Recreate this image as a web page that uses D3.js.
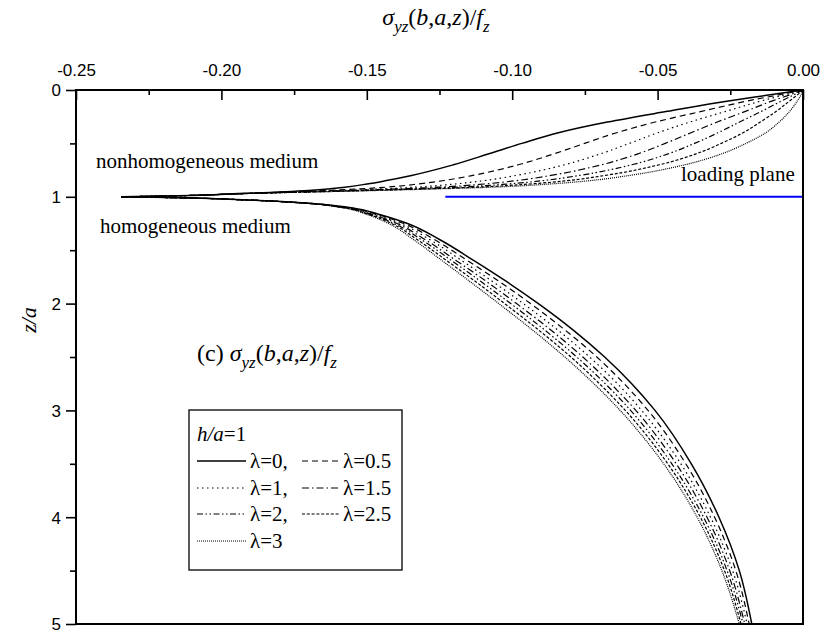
<!DOCTYPE html>
<html><head><meta charset="utf-8">
<script src="https://cdn.jsdelivr.net/npm/d3@7"></script>
<style>body{margin:0;background:#fff}svg{display:block}</style>
</head><body>
<svg id="c" width="831" height="637"></svg>
<script>
// ---------- data ----------
const xTicks = [-0.25, -0.20, -0.15, -0.10, -0.05, 0.00];
const xMinor = [-0.225, -0.175, -0.125, -0.075, -0.025];
const yTicks = [0, 1, 2, 3, 4, 5];
const yMinor = [0.5, 1.5, 2.5, 3.5, 4.5];
const lambdas = ["0", "0.5", "1", "1.5", "2", "2.5", "3"];

const zUpper = [0, 0.05, 0.1, 0.2, 0.3, 0.4, 0.5, 0.6, 0.7, 0.8, 0.85, 0.88, 0.91, 0.94, 0.97, 0.99, 1.0];
const upperL0  = [0, -0.0125, -0.0251, -0.0467, -0.0673, -0.0841, -0.0967, -0.1083, -0.1202, -0.1346, -0.1437, -0.1499, -0.1575, -0.1700, -0.1940, -0.2150, -0.2345];
const upperL05 = [0, -0.0092, -0.0186, -0.0349, -0.0508, -0.0641, -0.0751, -0.0859, -0.0979, -0.1136, -0.1241, -0.1323, -0.1434, -0.1630, -0.1934, -0.2150, -0.2345];
const upperL1  = [0, -0.0069, -0.0140, -0.0265, -0.0389, -0.0499, -0.0597, -0.0699, -0.0820, -0.0986, -0.1101, -0.1197, -0.1333, -0.1580, -0.1930, -0.2150, -0.2345];
const upperL15 = [0, -0.0050, -0.0103, -0.0198, -0.0295, -0.0385, -0.0474, -0.0570, -0.0693, -0.0867, -0.0990, -0.1096, -0.1252, -0.1540, -0.1927, -0.2150, -0.2345];
const upperL2  = [0, -0.0035, -0.0072, -0.0143, -0.0218, -0.0292, -0.0373, -0.0466, -0.0589, -0.0769, -0.0899, -0.1015, -0.1186, -0.1508, -0.1925, -0.2150, -0.2345];
const upperL25 = [0, -0.0021, -0.0045, -0.0092, -0.0147, -0.0206, -0.0281, -0.0370, -0.0494, -0.0680, -0.0815, -0.0939, -0.1126, -0.1478, -0.1922, -0.2150, -0.2345];
const upperL3  = [0, -0.0008, -0.0019, -0.0046, -0.0082, -0.0128, -0.0196, -0.0282, -0.0406, -0.0597, -0.0738, -0.0870, -0.1070, -0.1450, -0.1920, -0.2150, -0.2345];

const zLower = [1.0, 1.01, 1.03, 1.06, 1.1, 1.17, 1.25, 1.4, 1.6, 1.8, 2.0, 2.25, 2.5, 2.75, 3.0, 3.5, 4.0, 4.5, 5.0];
const lowerL0  = [-0.2345, -0.2130, -0.1910, -0.1700, -0.1560, -0.1450, -0.1360, -0.1250, -0.1130, -0.1016, -0.0910, -0.0789, -0.0682, -0.0589, -0.0509, -0.0384, -0.0289, -0.0219, -0.0176];
const lowerL05 = [-0.2345, -0.2130, -0.1910, -0.1702, -0.1566, -0.1459, -0.1373, -0.1268, -0.1152, -0.1041, -0.0937, -0.0817, -0.0709, -0.0615, -0.0533, -0.0403, -0.0304, -0.0231, -0.0185];
const lowerL1  = [-0.2345, -0.2130, -0.1910, -0.1704, -0.1571, -0.1467, -0.1385, -0.1284, -0.1172, -0.1064, -0.0962, -0.0842, -0.0734, -0.0638, -0.0555, -0.0420, -0.0318, -0.0242, -0.0192];
const lowerL15 = [-0.2345, -0.2130, -0.1910, -0.1706, -0.1577, -0.1475, -0.1396, -0.1300, -0.1191, -0.1085, -0.0985, -0.0866, -0.0757, -0.0661, -0.0575, -0.0436, -0.0330, -0.0252, -0.0200];
const lowerL2  = [-0.2345, -0.2130, -0.1910, -0.1707, -0.1581, -0.1482, -0.1406, -0.1313, -0.1207, -0.1104, -0.1005, -0.0887, -0.0778, -0.0680, -0.0593, -0.0451, -0.0342, -0.0261, -0.0206];
const lowerL25 = [-0.2345, -0.2130, -0.1910, -0.1709, -0.1586, -0.1488, -0.1415, -0.1327, -0.1224, -0.1123, -0.1026, -0.0908, -0.0798, -0.0700, -0.0611, -0.0465, -0.0353, -0.0270, -0.0213];
const lowerL3  = [-0.2345, -0.2130, -0.1910, -0.1710, -0.1590, -0.1495, -0.1425, -0.1340, -0.1240, -0.1142, -0.1046, -0.0929, -0.0819, -0.0719, -0.0629, -0.0479, -0.0364, -0.0279, -0.0219];

const loadingPlaneX = [-0.123, 0.0];
const loadingPlaneZ = [1.0, 1.0];

// ---------- layout / styles ----------
const upperSeries = [upperL0, upperL05, upperL1, upperL15, upperL2, upperL25, upperL3];
const lowerSeries = [lowerL0, lowerL05, lowerL1, lowerL15, lowerL2, lowerL25, lowerL3];
const dashes = ["none", "6,4", "1.5,3.5", "7,3,1.5,3", "6,2.5,1.5,2.5,1.5,2.5", "3,1.8", "1,1"];
const SERIF = "'Liberation Serif'";
const SANS = "'Liberation Sans'";

const L = 76, T = 90, R = 803, B = 624;

const svg = d3.select("#c");
const x = d3.scaleLinear().domain([-0.25, 0]).range([L, R]);
const y = d3.scaleLinear().domain([0, 5]).range([T, B]);

// axes
const gTop = svg.append("g").attr("transform", `translate(0,${T})`)
  .call(d3.axisTop(x).tickValues(xTicks).tickFormat(d3.format(".2f")).tickSizeInner(-10).tickSizeOuter(0).tickPadding(14));
const gTopMinor = svg.append("g").attr("transform", `translate(0,${T})`)
  .call(d3.axisTop(x).tickValues(xMinor).tickFormat("").tickSizeInner(-5).tickSizeOuter(0));
const gLeft = svg.append("g").attr("transform", `translate(${L},0)`)
  .call(d3.axisLeft(y).tickValues(yTicks).tickFormat(d3.format("d")).tickSizeInner(10).tickSizeOuter(0).tickPadding(5));
const gLeftMinor = svg.append("g").attr("transform", `translate(${L},0)`)
  .call(d3.axisLeft(y).tickValues(yMinor).tickFormat("").tickSizeInner(6).tickSizeOuter(0));
[gTop, gTopMinor, gLeft, gLeftMinor].forEach(g => {
  g.attr("font-family", null).attr("font-size", null);
  g.select(".domain").remove();
  g.selectAll(".tick line").attr("stroke", "#000").attr("stroke-width", 1.6);
  g.selectAll(".tick text").style("font-family", SANS).style("font-size", "17px").attr("fill", "#000");
});
gTop.selectAll(".tick text").text(d => d3.format(".2f")(d).replace("−", "-"));
gLeft.selectAll(".tick text").attr("dy", "0.35em");

// curves
const line = d3.line().x(d => x(d[0])).y(d => y(d[1])).curve(d3.curveMonotoneY);
const curves = svg.append("g").attr("fill", "none").attr("stroke", "#000");
upperSeries.forEach((s, i) => {
  curves.append("path").attr("d", line(s.map((v, k) => [v, zUpper[k]])))
    .attr("stroke-width", i === 0 ? 1.5 : 1.2).attr("stroke-dasharray", dashes[i]);
});
lowerSeries.forEach((s, i) => {
  curves.append("path").attr("d", line(s.map((v, k) => [v, zLower[k]])))
    .attr("stroke-width", i === 0 ? 1.5 : 1.2).attr("stroke-dasharray", dashes[i]);
});

// loading plane
svg.append("line")
  .attr("x1", x(loadingPlaneX[0])).attr("x2", x(loadingPlaneX[1]))
  .attr("y1", y(loadingPlaneZ[0])).attr("y2", y(loadingPlaneZ[1]))
  .attr("stroke", "#0000ff").attr("stroke-width", 2);

// frame
svg.append("rect").attr("x", L).attr("y", T).attr("width", R - L).attr("height", B - T)
  .attr("fill", "none").attr("stroke", "#000").attr("stroke-width", 2);

// formula helper
function formula(t, size) {
  const sub = Math.round(size * 0.72);
  const parts = [
    ["σ", true, 0, size], ["yz", true, 7, sub], ["(", false, -7, size], ["b", true, 0, size], [",", false, 0, size],
    ["a", true, 0, size], [",", false, 0, size], ["z", true, 0, size], [")/", false, 0, size], ["f", true, 0, size], ["z", true, 7, sub]
  ];
  parts.forEach(p => {
    t.append("tspan").text(p[0]).style("font-family", SERIF).style("font-style", p[1] ? "italic" : "normal")
      .attr("dy", p[2]).style("font-size", p[3] + "px");
  });
}
function stext(parent, xx, yy, size) {
  return parent.append("text").attr("x", xx).attr("y", yy)
    .style("font-family", SERIF).style("font-size", size + "px").attr("fill", "#000");
}

// top title
const title = stext(svg, 436, 25, 24).attr("text-anchor", "middle");
formula(title, 24);

// y title
stext(svg, 0, 0, 22).attr("transform", "translate(36,320) rotate(-90)").attr("text-anchor", "middle")
  .style("font-style", "italic").text("z/a");

// annotations
stext(svg, 96, 168, 21).text("nonhomogeneous medium");
stext(svg, 100, 233, 21).text("homogeneous medium");
stext(svg, 681, 181, 21).text("loading plane");
const ann = stext(svg, 197, 361, 24);
ann.append("tspan").style("font-family", SERIF).text("(c) ");
formula(ann, 24);

// legend
const lg = svg.append("g");
lg.append("rect").attr("x", 189).attr("y", 410).attr("width", 213).attr("height", 160)
  .attr("fill", "#fff").attr("stroke", "#000").attr("stroke-width", 1.3);
const hdr = stext(lg, 197, 441, 21);
hdr.append("tspan").style("font-family", SERIF).style("font-style", "italic").text("h/a");
hdr.append("tspan").style("font-family", SERIF).text("=1");
const rowY = [468, 495, 521, 548];
lambdas.forEach((lam, i) => {
  const row = Math.floor(i / 2), col = i % 2;
  const yy = rowY[row];
  const x0 = col === 0 ? 197 : 302;
  const x1 = col === 0 ? 246 : 340;
  lg.append("line").attr("x1", x0).attr("x2", x1).attr("y1", yy - 7).attr("y2", yy - 7)
    .attr("stroke", "#000").attr("stroke-width", i === 0 ? 1.5 : 1.2).attr("stroke-dasharray", dashes[i]);
  const label = "λ=" + lam + (col === 0 && i < 6 ? "," : "");
  stext(lg, col === 0 ? 250 : 343, yy, 21).text(label);
});
</script>
</body></html>
